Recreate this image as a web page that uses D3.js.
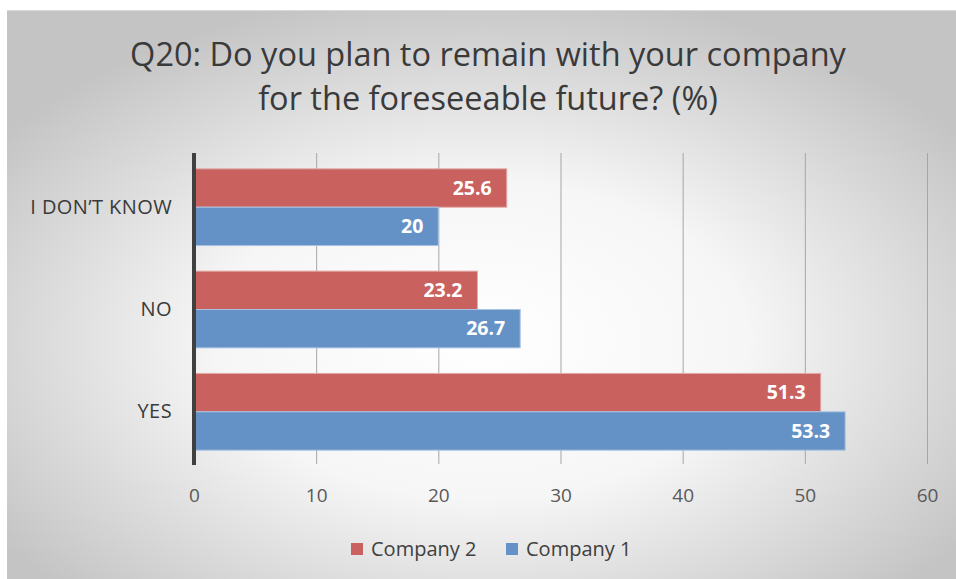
<!DOCTYPE html>
<html>
<head>
<meta charset="utf-8">
<script src="https://cdn.jsdelivr.net/npm/d3@7"></script>
<style>
  html, body { margin: 0; padding: 0; background: #ffffff; }
  svg { display: block; }
  text { font-family: "Open Sans", "Noto Sans", sans-serif; }
</style>
</head>
<body>
<svg id="chart" width="956" height="579"></svg>
<script>
// Survey answers and the two companies' shares (%)
const categories = ["I DON\u2019T KNOW", "NO", "YES"];
const seriesNames = ["Company 2", "Company 1"];
const company2 = [25.6, 23.2, 51.3];
const company1 = [20, 26.7, 53.3];
const xTicks = [0, 10, 20, 30, 40, 50, 60];
const titleLines = ["Q20: Do you plan to remain with your company", "for the foreseeable future? (%)"];

const seriesValues = { "Company 2": company2, "Company 1": company1 };
const colors = { "Company 2": "#c9625f", "Company 1": "#6592c6" };
const edgeColors = { "Company 2": "#e2a9a6", "Company 1": "#a9c3e2" };

const svg = d3.select("#chart");
const W = 956, H = 579;

// Soft radial background with a thin top edge
const defs = svg.append("defs");
const rg = defs.append("radialGradient").attr("id", "bg")
  .attr("cx", "50%").attr("cy", "58%").attr("r", "62%")
  .attr("fx", "50%").attr("fy", "58%");
rg.append("stop").attr("offset", "0%").attr("stop-color", "#ffffff");
rg.append("stop").attr("offset", "45%").attr("stop-color", "#f6f6f6");
rg.append("stop").attr("offset", "100%").attr("stop-color", "#c4c4c4");

svg.append("rect").attr("x", 7).attr("y", 10).attr("width", W - 7).attr("height", H - 10)
  .attr("fill", "url(#bg)");
svg.append("line").attr("x1", 7).attr("x2", W).attr("y1", 10.5).attr("y2", 10.5)
  .attr("stroke", "#d9d9d9").attr("stroke-width", 1);

// Title
const title = svg.append("g");
titleLines.forEach((t, i) => {
  title.append("text")
    .attr("x", 488).attr("y", 66 + i * 44)
    .attr("text-anchor", "middle")
    .attr("font-size", 32.5)
    .attr("fill", "#3a3a3a")
    .text(t);
});

// Scales
const x = d3.scaleLinear().domain([0, 60]).range([194, 927]);
const y = d3.scaleBand().domain(categories).range([154, 465])
  .paddingInner(0.25).paddingOuter(0.145);
const ys = d3.scaleBand().domain(seriesNames).range([0, y.bandwidth()]);

// Vertical gridlines
svg.append("g").selectAll("line").data(xTicks.filter(d => d > 0)).join("line")
  .attr("x1", d => x(d) + 0.5).attr("x2", d => x(d) + 0.5)
  .attr("y1", 153).attr("y2", 464)
  .attr("stroke", "#a6a6a6").attr("stroke-width", 1);

// Bars
const groups = svg.append("g").selectAll("g").data(categories).join("g")
  .attr("transform", d => `translate(0,${y(d)})`);

groups.selectAll("rect")
  .data((c, i) => seriesNames.map(s => ({ s, v: seriesValues[s][i] })))
  .join("rect")
  .attr("x", x(0))
  .attr("y", d => ys(d.s))
  .attr("width", d => x(d.v) - x(0))
  .attr("height", ys.bandwidth())
  .attr("fill", d => colors[d.s])
  .attr("stroke", d => edgeColors[d.s])
  .attr("stroke-width", 1);

// Value labels inside bar ends
groups.selectAll("text.val")
  .data((c, i) => seriesNames.map(s => ({ s, v: seriesValues[s][i] })))
  .join("text")
  .attr("class", "val")
  .attr("x", d => x(d.v) - 15)
  .attr("y", d => ys(d.s) + ys.bandwidth() / 2)
  .attr("dy", "0.35em")
  .attr("text-anchor", "end")
  .attr("font-size", 19.5)
  .attr("font-weight", "bold")
  .attr("fill", "#ffffff")
  .text(d => d.v);

// Category axis
const yAxis = svg.append("g").attr("transform", `translate(${x(0)},0)`)
  .call(d3.axisLeft(y).tickSize(0).tickPadding(22));
yAxis.select(".domain").remove();
yAxis.selectAll("text").attr("font-size", 20).attr("fill", "#3a3a3a")
  .attr("letter-spacing", 0.4)
  .style("font-family", "'Open Sans', sans-serif");
svg.append("line").attr("x1", x(0)).attr("x2", x(0)).attr("y1", 153).attr("y2", 465)
  .attr("stroke", "#404040").attr("stroke-width", 4);

// Value axis labels
const xAxis = svg.append("g").attr("transform", "translate(0,465)")
  .call(d3.axisBottom(x).tickValues(xTicks).tickSize(0).tickPadding(24));
xAxis.select(".domain").remove();
xAxis.selectAll("text").attr("font-size", 19).attr("fill", "#595959")
  .style("font-family", "'Open Sans', sans-serif");

// Legend
const legendItems = [
  { s: "Company 2", x: 351 },
  { s: "Company 1", x: 506 }
];
const legend = svg.append("g").selectAll("g").data(legendItems).join("g")
  .attr("transform", d => `translate(${d.x},549)`);
legend.append("rect").attr("x", 0).attr("y", -6).attr("width", 12).attr("height", 12)
  .attr("fill", d => colors[d.s]);
legend.append("text").attr("x", 20).attr("dy", "0.35em")
  .attr("font-size", 20).attr("fill", "#404040").text(d => d.s);
</script>
</body>
</html>
